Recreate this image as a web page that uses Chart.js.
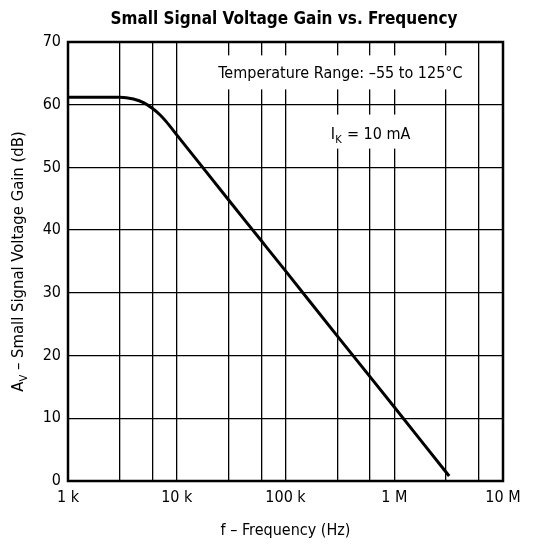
<!DOCTYPE html>
<html>
<head>
<meta charset="utf-8">
<script src="https://cdn.jsdelivr.net/npm/chart.js@4.4.1/dist/chart.umd.min.js"></script>
<style>
  html, body { margin: 0; padding: 0; background: #fff; }
  #wrap { width: 540px; height: 544px; }
</style>
</head>
<body>
<div id="wrap"><canvas id="chart1" width="540" height="544"></canvas></div>
<script>
// frequency (Hz) and gain (dB)
const freq = [1e3, 2e3, 3e3, 4e3, 5e3, 6e3, 7e3, 8e3, 1e4, 3e4, 6e4, 1e5, 3e5, 6e5, 1e6, 3e6, 3.2e6];
const gain = [61.2, 61.2, 61.2, 60.9, 60.3, 59.4, 58.4, 57.3, 55.2, 44.8, 38.3, 33.5, 23.1, 16.6, 11.8, 1.4, 0.8];

// grid lines on the frequency axis, labels only at the decades
const gridFreq = [1e3, 3e3, 6e3, 1e4, 3e4, 6e4, 1e5, 3e5, 6e5, 1e6, 3e6, 6e6, 1e7];
const decadeLabels = { 1e3: '1 k', 1e4: '10 k', 1e5: '100 k', 1e6: '1 M', 1e7: '10 M' };

const FONT = '"Liberation Sans Narrow", "DejaVu Sans Condensed", Arial, sans-serif';

const notes = {
    id: 'notes',
    beforeDatasetsDraw(chart) {
        const ctx = chart.ctx;
        const xs = chart.scales.x;
        const ys = chart.scales.y;
        ctx.save();
        ctx.textBaseline = 'alphabetic';

        // temperature note on a white box that breaks the grid
        ctx.font = '16px ' + FONT;
        const t = 'Temperature Range: \u201355 to 125\u00b0C';
        const tw = ctx.measureText(t).width;
        const tx = xs.getPixelForValue(3.2e5);
        const ty = ys.getPixelForValue(64.2);
        ctx.fillStyle = '#fff';
        ctx.fillRect(tx - tw / 2 - 5, ty - 23, tw + 10, 34);
        ctx.fillStyle = '#000';
        ctx.textAlign = 'center';
        ctx.fillText(t, tx, ty);

        // I_K note
        const x0 = xs.getPixelForValue(2.6e5);
        const y0 = ys.getPixelForValue(54.6);
        const w = ctx.measureText('I').width;
        ctx.font = '11px ' + FONT;
        const w2 = ctx.measureText('K').width;
        ctx.font = '16px ' + FONT;
        const w3 = ctx.measureText(' = 10 mA').width;
        ctx.fillStyle = '#fff';
        ctx.fillRect(x0 - 5, y0 - 24, w + w2 + w3 + 11, 34);
        ctx.fillStyle = '#000';
        ctx.textAlign = 'left';
        ctx.fillText('I', x0, y0);
        ctx.font = '11px ' + FONT;
        ctx.fillText('K', x0 + w + 0.5, y0 + 4);
        ctx.font = '16px ' + FONT;
        ctx.fillText(' = 10 mA', x0 + w + w2 + 1, y0);
        ctx.restore();
    },
    afterDraw(chart) {
        const ctx = chart.ctx;
        const a = chart.chartArea;
        ctx.save();
        // frame
        ctx.strokeStyle = '#000';
        ctx.lineWidth = 2.5;
        ctx.strokeRect(a.left, a.top, a.right - a.left, a.bottom - a.top);

        ctx.fillStyle = '#000';
        // title
        ctx.font = 'bold 17px ' + FONT;
        ctx.textAlign = 'center';
        ctx.textBaseline = 'alphabetic';
        ctx.fillText('Small Signal Voltage Gain vs. Frequency', 284, 24);

        // y axis title, rotated, with subscript
        ctx.translate(23, (a.top + a.bottom) / 2);
        ctx.rotate(-Math.PI / 2);
        ctx.textAlign = 'left';
        ctx.font = '16.5px ' + FONT;
        const p1 = 'A';
        const p3 = ' \u2013 Small Signal Voltage Gain (dB)';
        const w1 = ctx.measureText(p1).width;
        const w3 = ctx.measureText(p3).width;
        ctx.font = '11px ' + FONT;
        const wsub = ctx.measureText('V').width;
        const sx = -(w1 + wsub + w3) / 2;
        ctx.font = '16.5px ' + FONT;
        ctx.fillText(p1, sx, 0);
        ctx.font = '11px ' + FONT;
        ctx.fillText('V', sx + w1, 4);
        ctx.font = '16.5px ' + FONT;
        ctx.fillText(p3, sx + w1 + wsub, 0);
        ctx.restore();
    }
};

const Chart1 = new Chart(document.getElementById('chart1'), {
    type: 'line',
    data: {
        datasets: [{
            data: freq.map((f, i) => ({ x: f, y: gain[i] })),
            borderColor: '#000',
            borderWidth: 3,
            pointRadius: 0,
            cubicInterpolationMode: 'monotone',
            fill: false
        }]
    },
    options: {
        responsive: false,
        animation: false,
        layout: { padding: { top: 42, right: 37, left: 0, bottom: 0 } },
        plugins: {
            legend: { display: false },
            tooltip: { enabled: false },
            title: { display: false }
        },
        scales: {
            x: {
                type: 'logarithmic',
                min: 1e3,
                max: 1e7,
                afterBuildTicks: (scale) => {
                    scale.ticks = gridFreq.map(v => ({ value: v }));
                },
                afterFit: (scale) => { scale.height = 63; },
                ticks: {
                    autoSkip: false,
                    maxRotation: 0,
                    color: '#000',
                    font: { family: FONT, size: 16 },
                    padding: 7,
                    callback: (v) => decadeLabels[v] || ''
                },
                grid: { color: '#000', lineWidth: 1.3, drawTicks: false },
                border: { display: false },
                title: {
                    display: true,
                    text: 'f \u2013 Frequency (Hz)',
                    color: '#000',
                    font: { family: FONT, size: 16 },
                    padding: { top: 7 }
                }
            },
            y: {
                min: 0,
                max: 70,
                afterFit: (scale) => { scale.width = 68; },
                ticks: {
                    stepSize: 10,
                    color: '#000',
                    font: { family: FONT, size: 16 },
                    padding: 7
                },
                grid: { color: '#000', lineWidth: 1.3, drawTicks: false },
                border: { display: false }
            }
        }
    },
    plugins: [notes]
});
</script>
</body>
</html>
